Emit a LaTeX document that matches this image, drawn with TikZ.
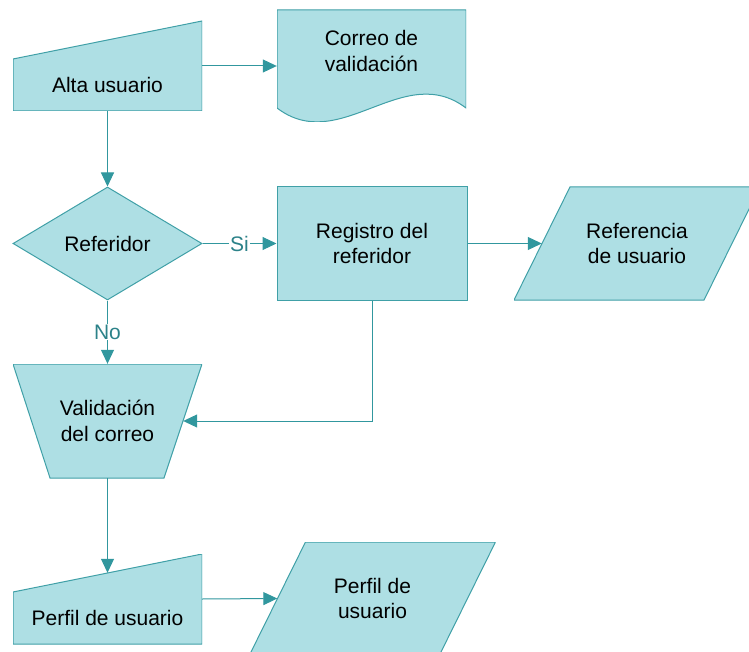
\documentclass[tikz,border=0pt]{standalone}
\usepackage{fontspec}
\setmainfont{Liberation Sans}
\usetikzlibrary{shapes.geometric,arrows.meta}
\definecolor{boxfill}{RGB}{174,223,228}
\definecolor{boxline}{RGB}{64,160,167}
\definecolor{flowline}{RGB}{49,151,158}
\definecolor{flowtext}{RGB}{44,130,137}
\tikzset{
    txt/.style={inner sep=0pt, align=center, font=\fontsize{21}{25.5}\selectfont},
    box/.style={txt, minimum width=189pt},
    outline/.style={fill=boxfill, draw=boxline, line width=1pt},
    lowtext/.style={label={[txt,yshift=-19pt]center:#1}},
    manin/.style={box, minimum height=90pt, path picture={
        \path[outline] (path picture bounding box.south west) -- ([yshift=-38pt]path picture bounding box.north west)
            -- (path picture bounding box.north east) -- (path picture bounding box.south east) -- cycle;}},
    docu/.style={box, minimum height=112pt, path picture={
        \path[outline] (path picture bounding box.north west) -- (path picture bounding box.north east)
            -- ([yshift=14pt]path picture bounding box.south east)
            .. controls ([xshift=-63pt,yshift=62pt]path picture bounding box.south east) and ([xshift=63pt,yshift=-34pt]path picture bounding box.south west)
            .. ([yshift=14pt]path picture bounding box.south west) -- cycle;}},
    para/.style={box, minimum width=246pt, minimum height=113pt, path picture={
        \path[outline] (path picture bounding box.south west) -- ([xshift=56pt]path picture bounding box.north west)
            -- (path picture bounding box.north east) -- ([xshift=-56pt]path picture bounding box.south east) -- cycle;}},
    manop/.style={box, minimum height=114pt, path picture={
        \path[outline] (path picture bounding box.north west) -- (path picture bounding box.north east)
            -- ([xshift=-38pt]path picture bounding box.south east) -- ([xshift=37pt]path picture bounding box.south west) -- cycle;}},
    decision/.style={box, outline, shape=diamond, minimum height=113pt, aspect=1.67},
    process/.style={box, outline, minimum width=190pt, minimum height=113pt},
    arr/.style={draw=flowline, line width=1pt, -{Triangle[length=14pt,width=13pt]}},
    lbl/.style={txt, fill=white, inner sep=1pt, text=flowtext}
}
\begin{document}
\begin{tikzpicture}[x=1pt,y=-1pt]
            \useasboundingbox (0,0) rectangle (749,652);
            \clip (0,0) rectangle (749,652);
            \node[manin, lowtext=Alta usuario] (alta) at (107.5,66) {};
            \node[docu, label={[txt,yshift=15pt]center:Correo de\\validación}] (correo) at (371.5,66) {};
            \node[decision] (refer) at (107.5,243.5) {Referidor};
            \node[process] (reg) at (372,243.5) {Registro del\\referidor};
            \node[para] (refu) at (637,243.5) {Referencia\\de usuario};
            \node[manop] (valid) at (107.5,421) {Validación\\del correo};
            \node[manin, lowtext=Perfil de usuario] (perfil) at (107.5,599) {};
            \node[para] (perfo) at (372.5,598.5) {Perfil de\\usuario};
            \draw[arr] (alta.east) -- (correo.west);
            \draw[arr] (alta.south) -- (refer.north);
            \draw[arr] (refer.east) -- node[lbl] {Si} (reg.west);
            \draw[arr] (refer.south) -- node[lbl] {No} (valid.north);
            \draw[arr] (reg.east) -- ([xshift=28pt]refu.west);
            \draw[arr] (reg.south) |- ([xshift=-19pt]valid.east);
            \draw[arr] (valid.south) -- ([yshift=-19pt]perfil.north);
            \draw[arr] (perfil.east) -- ([xshift=28pt]perfo.west);
\end{tikzpicture}
\end{document}
